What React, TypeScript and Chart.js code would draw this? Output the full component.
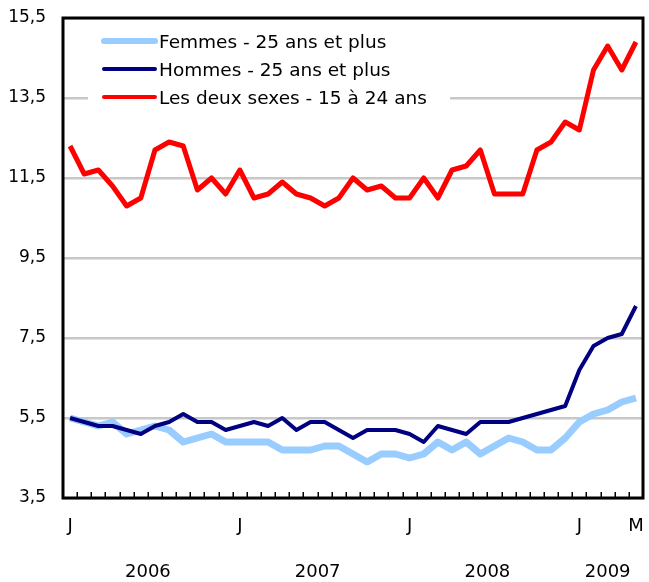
import React, { useEffect, useRef } from "react";
import { Chart, registerables } from "chart.js";

Chart.register(...registerables);

// ---- Data ----
const monthInitials = ["J", "F", "M", "A", "M", "J", "J", "A", "S", "O", "N", "D"];
const years = ["2006", "2007", "2008", "2009"];
const monthsPerYear = [12, 12, 12, 5];

const seriesNames = [
  "Femmes - 25 ans et plus",
  "Hommes - 25 ans et plus",
  "Les deux sexes - 15 à 24 ans",
];
const seriesColors = ["#99ccff", "#000080", "#ff0000"];

const femmes = [
  5.5, 5.4, 5.3, 5.4, 5.1, 5.2, 5.3, 5.2, 4.9, 5.0, 5.1, 4.9,
  4.9, 4.9, 4.9, 4.7, 4.7, 4.7, 4.8, 4.8, 4.6, 4.4, 4.6, 4.6,
  4.5, 4.6, 4.9, 4.7, 4.9, 4.6, 4.8, 5.0, 4.9, 4.7, 4.7, 5.0,
  5.4, 5.6, 5.7, 5.9, 6.0,
];
const hommes = [
  5.5, 5.4, 5.3, 5.3, 5.2, 5.1, 5.3, 5.4, 5.6, 5.4, 5.4, 5.2,
  5.3, 5.4, 5.3, 5.5, 5.2, 5.4, 5.4, 5.2, 5.0, 5.2, 5.2, 5.2,
  5.1, 4.9, 5.3, 5.2, 5.1, 5.4, 5.4, 5.4, 5.5, 5.6, 5.7, 5.8,
  6.7, 7.3, 7.5, 7.6, 8.3,
];
const jeunes = [
  12.3, 11.6, 11.7, 11.3, 10.8, 11.0, 12.2, 12.4, 12.3, 11.2, 11.5, 11.1,
  11.7, 11.0, 11.1, 11.4, 11.1, 11.0, 10.8, 11.0, 11.5, 11.2, 11.3, 11.0,
  11.0, 11.5, 11.0, 11.7, 11.8, 12.2, 11.1, 11.1, 11.1, 12.2, 12.4, 12.9,
  12.7, 14.2, 14.8, 14.2, 14.9,
];
const yTicks = [3.5, 5.5, 7.5, 9.5, 11.5, 13.5, 15.5];

// categories built from the years/months
const categories: string[] = [];
const yearStartIndex: number[] = [];
years.forEach((y, yi) => {
  yearStartIndex.push(categories.length);
  for (let m = 0; m < monthsPerYear[yi]; m++) categories.push(monthInitials[m]);
});

const FONT = "'DejaVu Sans', sans-serif";

const decorPlugin = {
  id: "decor",
  beforeDatasetsDraw(chart: any) {
    const ctx = chart.ctx;
    ctx.save();
    ctx.fillStyle = "#ffffff";
    ctx.fillRect(88, 26, 362, 84);
    ctx.restore();
  },
  afterDatasetsDraw(chart: any) {
    const ctx = chart.ctx;
    const { left, right, top, bottom } = chart.chartArea;
    const xs = chart.scales.x;
    ctx.save();
    // inward tick marks between months
    ctx.strokeStyle = "#000";
    ctx.lineWidth = 1.5;
    ctx.beginPath();
    for (let i = 1; i < categories.length; i++) {
      const x = Math.round((xs.getPixelForValue(i - 1) + xs.getPixelForValue(i)) / 2) + 0.25;
      ctx.moveTo(x, bottom);
      ctx.lineTo(x, bottom - 6);
    }
    ctx.stroke();
    // frame
    ctx.lineWidth = 3;
    ctx.strokeRect(left, top, right - left, bottom - top);
    // legend
    const ly = [41, 69, 97];
    seriesNames.forEach((name, i) => {
      ctx.strokeStyle = seriesColors[i];
      ctx.lineWidth = i === 0 ? 6 : 4;
      ctx.lineCap = "round";
      ctx.beginPath();
      ctx.moveTo(104, ly[i]);
      ctx.lineTo(155, ly[i]);
      ctx.stroke();
      ctx.fillStyle = "#000";
      ctx.font = `18.5px ${FONT}`;
      ctx.textBaseline = "middle";
      ctx.textAlign = "left";
      ctx.fillText(name, 159, ly[i] + 2);
    });
    // year labels
    ctx.font = `18px ${FONT}`;
    ctx.textAlign = "center";
    ctx.textBaseline = "middle";
    ctx.fillStyle = "#000";
    years.forEach((y, yi) => {
      const a = xs.getPixelForValue(yearStartIndex[yi]);
      const b = xs.getPixelForValue(yearStartIndex[yi] + monthsPerYear[yi] - 1);
      ctx.fillText(y, (a + b) / 2, 572);
    });
    ctx.restore();
  },
};

export default function App() {
  const canvasRef = useRef<HTMLCanvasElement | null>(null);

  useEffect(() => {
    document.body.style.margin = "0";
    const canvas = canvasRef.current!;
    const chart = new Chart(canvas, {
      type: "line",
      data: {
        labels: categories,
        datasets: [
          {
            label: seriesNames[2],
            data: jeunes,
            borderColor: seriesColors[2],
            borderWidth: 5,
          },
          {
            label: seriesNames[1],
            data: hommes,
            borderColor: seriesColors[1],
            borderWidth: 4,
          },
          {
            label: seriesNames[0],
            data: femmes,
            borderColor: seriesColors[0],
            borderWidth: 7,
          },
        ].map((d) => ({
          ...d,
          pointRadius: 0,
          tension: 0,
          fill: false,
          borderJoinStyle: "round" as const,
        })),
      },
      options: {
        responsive: false,
        animation: false,
        layout: { padding: { top: 18, right: 6, left: 0, bottom: 0 } },
        plugins: {
          legend: { display: false },
          tooltip: { enabled: false },
        },
        scales: {
          x: {
            type: "category",
            offset: true,
            grid: {
              display: true,
              drawOnChartArea: false,
              drawTicks: true,
              tickLength: 18,
              tickColor: "rgba(0,0,0,0)",
              offset: false,
            },
            border: { display: false },
            ticks: {
              autoSkip: false,
              maxRotation: 0,
              minRotation: 0,
              padding: 0,
              color: "#000",
              font: { family: FONT, size: 18 },
              callback: (_v: any, i: number) => {
                const isYearStart = yearStartIndex.includes(i);
                const isLast = i === categories.length - 1;
                return isYearStart || isLast ? categories[i] : "";
              },
            },
            afterFit: (s: any) => {
              s.height = 84;
            },
          },
          y: {
            min: 3.5,
            max: 15.5,
            grid: {
              color: "#c8c8c8",
              lineWidth: 2.5,
              drawTicks: true,
              tickLength: 17,
              tickColor: "rgba(0,0,0,0)",
            },
            border: { display: false },
            ticks: {
              padding: 0,
              color: "#000",
              font: { family: FONT, size: 17 },
              callback: (v: any) => String(v).replace(".", ","),
            },
            afterBuildTicks: (s: any) => {
              s.ticks = yTicks.map((v) => ({ value: v }));
            },
            afterFit: (s: any) => {
              s.width = 63;
            },
          },
        },
      },
      plugins: [decorPlugin],
    });
    return () => chart.destroy();
  }, []);

  return (
    <div style={{ width: 649, height: 582 }}>
      <canvas ref={canvasRef} width={649} height={582} />
    </div>
  );
}
